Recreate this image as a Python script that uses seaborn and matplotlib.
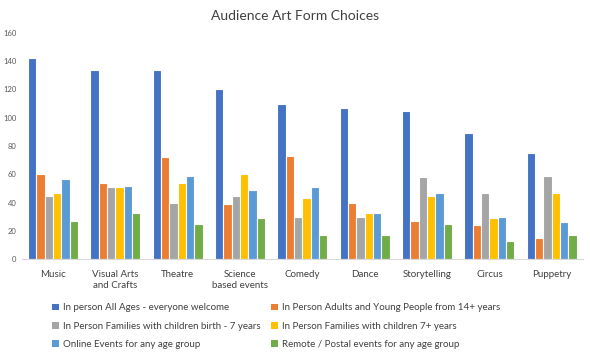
import matplotlib
matplotlib.use("Agg")
import matplotlib.pyplot as plt
import seaborn as sns
import pandas as pd
from matplotlib.patches import Patch

categories = ["Music", "Visual Arts\nand Crafts", "Theatre", "Science\nbased events",
              "Comedy", "Dance", "Storytelling", "Circus", "Puppetry"]
series_names = [
    "In person All Ages - everyone welcome",
    "In Person Adults and Young People from 14+ years",
    "In Person Families with children birth - 7 years",
    "In Person Families with children 7+ years",
    "Online Events for any age group",
    "Remote / Postal events for any age group",
]
all_ages = [142, 134, 134, 120, 110, 107, 105, 89, 75]
adults_14 = [60, 54, 72, 39, 73, 40, 27, 24, 15]
families_0_7 = [45, 51, 40, 45, 30, 30, 58, 47, 59]
families_7 = [47, 51, 54, 60, 43, 33, 45, 29, 47]
online = [57, 52, 59, 49, 51, 33, 47, 30, 26]
remote = [27, 33, 25, 29, 17, 17, 25, 13, 17]
colors = ["#4472C4", "#ED7D31", "#A5A5A5", "#FFC000", "#5B9BD5", "#70AD47"]
y_ticks = [0, 20, 40, 60, 80, 100, 120, 140, 160]

series_values = [all_ages, adults_14, families_0_7, families_7, online, remote]
rows = []
for name, vals in zip(series_names, series_values):
    for c, v in zip(categories, vals):
        rows.append({"category": c, "series": name, "value": v})
df = pd.DataFrame(rows)

sns.set_style("white")
plt.rcParams["font.family"] = ["Lato", "DejaVu Sans"]

fig = plt.figure(figsize=(5.9, 3.56), dpi=100)
ax = fig.add_axes([0.037, 0.2716, 0.951, 0.6366])

sns.barplot(data=df, x="category", y="value", hue="series", order=categories,
            hue_order=series_names, palette=colors, saturation=1, width=0.8, ax=ax,
            edgecolor="white", linewidth=0.8, legend=False)

ax.set_ylim(0, 160)
ax.set_yticks(y_ticks)
ax.set_xlim(-0.5, len(categories) - 0.5)
ax.set_xlabel("")
ax.set_ylabel("")
for s in ["top", "right", "left"]:
    ax.spines[s].set_visible(False)
ax.spines["bottom"].set_color("#D9D9D9")
ax.spines["bottom"].set_linewidth(0.8)
ax.tick_params(axis="y", length=0, labelsize=5.5, labelcolor="#595959", pad=4)
ax.tick_params(axis="x", which="major", length=0, labelsize=7, labelcolor="#404040", pad=8)
ax.set_xticks([i + 0.5 for i in range(-1, len(categories))], minor=True)
ax.tick_params(axis="x", which="minor", length=4, color="#D9D9D9", width=0.8)

fig.text(0.5, 0.955, "Audience Art Form Choices", ha="center", va="center",
         fontsize=10, color="#404040")

handles = [Patch(facecolor=c, edgecolor="none") for c in colors]
order = [0, 2, 4, 1, 3, 5]
fig.legend([handles[i] for i in order], [series_names[i] for i in order],
           ncol=2, loc="upper left", bbox_to_anchor=(0.088, 0.148),
           frameon=False, fontsize=7, labelcolor="#404040",
           handlelength=0.7, handleheight=0.7, handletextpad=0.4,
           columnspacing=1.1, labelspacing=0.95, borderaxespad=0, borderpad=0)

fig.savefig("out.png", dpi=100)
